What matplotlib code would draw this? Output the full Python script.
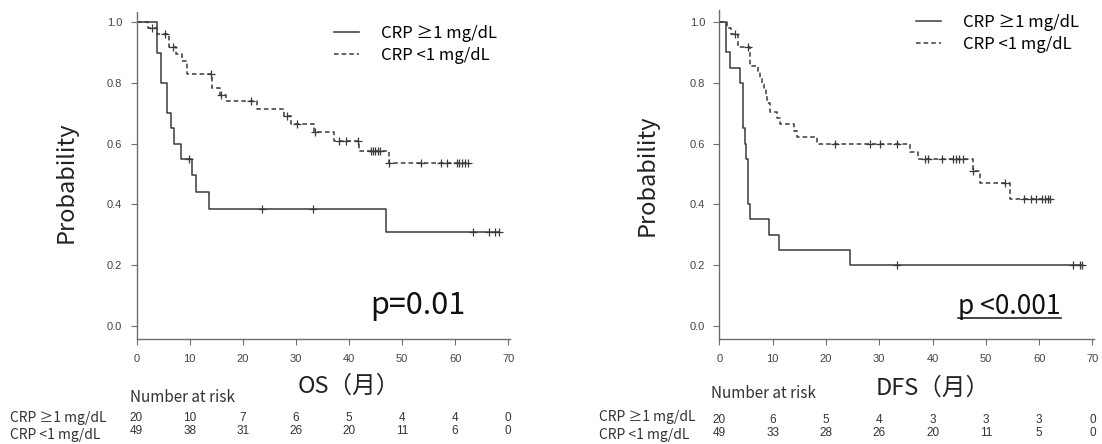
import matplotlib.pyplot as plt
import numpy as np
from matplotlib.transforms import blended_transform_factory
from matplotlib.lines import Line2D

plt.rcParams['font.family'] = ['Noto Sans CJK JP', 'DejaVu Sans']

W, H = 1102, 444

groups = ['CRP ≥1 mg/dL', 'CRP <1 mg/dL']
risk_times = [0, 10, 20, 30, 40, 50, 60, 70]

# OS, CRP >= 1 (step times / survival after the step)
os_hi_t = [0, 3.9, 4.6, 5.8, 6.5, 7.1, 8.4, 10.5, 11.2, 13.7, 47.0, 68.2]
os_hi_s = [1.0, 0.90, 0.80, 0.70, 0.65, 0.60, 0.55, 0.495, 0.44, 0.385, 0.308, 0.308]
os_hi_cens = [9.9, 23.7, 33.3, 63.4, 66.4, 67.6, 68.2]

# OS, CRP < 1
os_lo_t = [0, 2.1, 3.9, 6.1, 7.4, 8.5, 9.5, 14.3, 15.8, 16.9, 22.7, 27.7, 29.1,
           33.4, 37.2, 41.9, 47.6, 62.4]
os_lo_s = [1.0, 0.98, 0.96, 0.918, 0.896, 0.874, 0.83, 0.783, 0.762, 0.739, 0.714,
           0.692, 0.665, 0.637, 0.61, 0.576, 0.536, 0.536]
os_lo_cens = [3.0, 5.3, 6.9, 14.0, 15.9, 21.6, 28.3, 30.3, 33.6, 38.2, 39.4, 41.7,
              44.2, 44.6, 45.0, 45.4, 45.9, 47.6, 53.6, 57.4, 58.5, 60.3, 60.8,
              61.3, 61.8, 62.4]

# DFS, CRP >= 1
dfs_hi_t = [0, 1.2, 2.0, 3.8, 4.4, 4.75, 5.1, 5.4, 5.8, 9.4, 11.2, 24.5, 68.0]
dfs_hi_s = [1.0, 0.90, 0.85, 0.80, 0.65, 0.60, 0.55, 0.40, 0.35, 0.30, 0.25, 0.20, 0.20]
dfs_hi_cens = [33.3, 66.4, 67.6, 68.0]

# DFS, CRP < 1
dfs_lo_t = [0, 1.5, 2.2, 3.6, 5.8, 7.3, 7.7, 8.1, 8.4, 8.7, 9.0, 9.5, 10.8, 11.3,
            14.0, 14.6, 18.3, 35.8, 37.3, 47.6, 48.9, 54.5, 62.3]
dfs_lo_s = [1.0, 0.98, 0.96, 0.918, 0.857, 0.837, 0.816, 0.796, 0.776, 0.755, 0.735,
            0.705, 0.684, 0.663, 0.642, 0.621, 0.599, 0.573, 0.548, 0.511, 0.469,
            0.416, 0.416]
dfs_lo_cens = [2.9, 5.4, 21.7, 28.3, 30.2, 33.4, 38.6, 39.2, 41.7, 43.9, 44.5, 45.0,
               45.8, 47.6, 53.6, 57.1, 58.4, 59.5, 60.5, 61.1, 61.6, 62.1]

os_risk_hi = [20, 10, 7, 6, 5, 4, 4, 0]
os_risk_lo = [49, 38, 31, 26, 20, 11, 6, 0]
dfs_risk_hi = [20, 6, 5, 4, 3, 3, 3, 0]
dfs_risk_lo = [49, 33, 28, 26, 20, 11, 5, 0]

LINE = '#3a3a3a'
SPINE = '#6e6e6e'


def fy(y):
    return 1 - y / H


def fx(x):
    return x / W


def km(ax, t, s, cens, ls, label):
    t = np.asarray(t)
    s = np.asarray(s)
    ax.step(t, s, where='post', color=LINE, lw=1.1, linestyle=ls, label=label)
    c = np.asarray(cens)
    idx = np.searchsorted(t, c, side='right') - 1
    ax.plot(c, s[idx], linestyle='none', marker='+', ms=6, mew=0.9, color=LINE)


def panel(fig, rect, top, curves, risk, xlabel, ptext, geo):
    ax = fig.add_axes(rect)
    km(ax, *curves[0], '-', groups[0])
    km(ax, *curves[1], (0, (3, 2)), groups[1])
    ax.set_xlim(0, 70.3)
    ax.set_ylim(-0.045, top)
    ax.set_xticks(risk_times)
    ax.set_yticks([0, 0.2, 0.4, 0.6, 0.8, 1.0])
    ax.set_yticklabels(['0.0', '0.2', '0.4', '0.6', '0.8', '1.0'])
    for side in ['top', 'right']:
        ax.spines[side].set_visible(False)
    for side in ['left', 'bottom']:
        ax.spines[side].set_color(SPINE)
        ax.spines[side].set_linewidth(1.0)
    ax.tick_params(length=4.3, width=0.8, color=SPINE, labelcolor='#444444',
                   labelsize=8, pad=6)
    for lab in ax.get_xticklabels() + ax.get_yticklabels():
        lab.set_family('Liberation Sans')

    ax.legend(frameon=False, loc='upper left', fontsize=12,
              bbox_to_anchor=(fx(geo['leg_x']), fy(geo['leg_y'])),
              bbox_transform=fig.transFigure, handlelength=1.5,
              handletextpad=1.3, labelspacing=0.3, borderpad=0,
              borderaxespad=0)

    fig.text(fx(geo['ylab_x']), fy(geo['ylab_y']), 'Probability', rotation=90,
             ha='center', va='center', fontsize=17, color='#222222')

    p = fig.text(fx(geo['p_x']), fy(314), ptext, ha='left', va='baseline',
                 fontsize=geo['p_size'], color='#111111')

    tr = blended_transform_factory(ax.transData, fig.transFigure)
    ax.text(40, fy(geo['xl_y']), xlabel, transform=tr, ha='center', va='center',
            fontsize=17, color='#222222')
    fig.text(fx(geo['nr_x']), fy(geo['nr_y']), 'Number at risk', ha='left',
             va='center', fontsize=11, color='#333333')
    for i, g in enumerate(groups):
        fig.text(fx(geo['row_x']), fy(geo['row_y'][i]), g, ha='left', va='center',
                 fontsize=10, color='#333333')
        for tm, n in zip(risk_times, risk[i]):
            ax.text(tm, fy(geo['num_y'][i]), str(n), transform=tr, ha='center',
                    va='center', fontsize=8.5, color='#333333',
                    family='Liberation Sans')
    return ax, p


fig = plt.figure(figsize=(W / 100, H / 100), dpi=100)

geo_l = dict(leg_x=334, leg_y=25, ylab_x=66, ylab_y=182, p_x=370, p_size=22,
             xl_y=386, nr_x=130, nr_y=398, row_x=10, row_y=[418, 435],
             num_y=[418, 431])
geo_r = dict(leg_x=916, leg_y=14, ylab_x=647, ylab_y=175, p_x=958, p_size=19,
             xl_y=388, nr_x=711, nr_y=393, row_x=599, row_y=[417, 435],
             num_y=[420, 433])

ax1, p1 = panel(fig, [fx(136.5), fy(339.3), 373.3 / W, (339.3 - 12) / H], 1.034,
                [(os_hi_t, os_hi_s, os_hi_cens), (os_lo_t, os_lo_s, os_lo_cens)],
                [os_risk_hi, os_risk_lo], 'OS（月）', 'p=0.01', geo_l)
ax2, p2 = panel(fig, [fx(719.3), fy(339.3), 374.7 / W, (339.3 - 10) / H], 1.04,
                [(dfs_hi_t, dfs_hi_s, dfs_hi_cens), (dfs_lo_t, dfs_lo_s, dfs_lo_cens)],
                [dfs_risk_hi, dfs_risk_lo], 'DFS（月）', 'p <0.001', geo_r)

# underline the DFS p-value
fig.canvas.draw()
bb = p2.get_window_extent(fig.canvas.get_renderer())
fig.add_artist(Line2D([bb.x0 / W, bb.x1 / W], [fy(318), fy(318)],
                      transform=fig.transFigure, color='#111111', lw=1.1))

fig.savefig('out.png', dpi=100)
